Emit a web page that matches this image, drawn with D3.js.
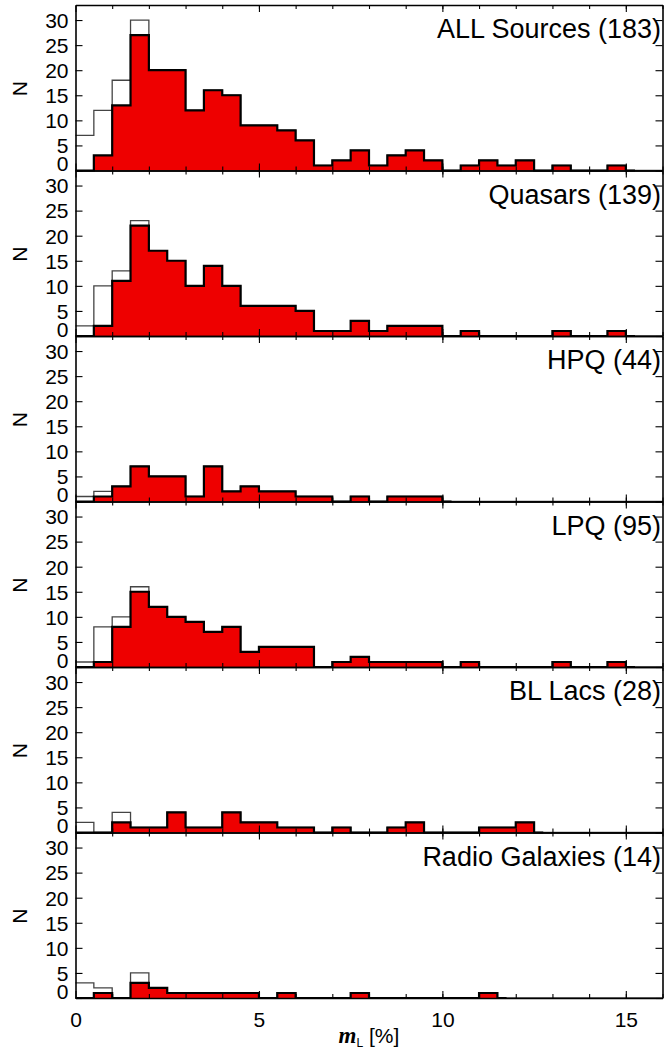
<!DOCTYPE html>
<html>
<head>
<meta charset="utf-8">
<script src="https://cdn.jsdelivr.net/npm/d3@7"></script>
<style>
body { margin: 0; background: #fff; }
svg text { font-family: "Liberation Sans", Arial, Helvetica, sans-serif; fill: #000; }
</style>
</head>
<body>
<div id="chart"></div>
<script>
// histogram bins: 0.5 % wide, starting at 0
const binWidth = 0.5;
const nBins = 32;

const panelLabels = ["ALL Sources (183)", "Quasars (139)", "HPQ (44)", "LPQ (95)", "BL Lacs (28)", "Radio Galaxies (14)"];

// filled (red) histograms
const allRed = [0, 3, 13, 27, 20, 20, 12, 16, 15, 9, 9, 8, 6, 1, 2, 4, 1, 3, 4, 2, 0, 1, 2, 1, 2, 0, 1, 0, 0, 1];
const qsoRed = [0, 2, 11, 22, 17, 15, 10, 14, 10, 6, 6, 6, 5, 1, 1, 3, 1, 2, 2, 2, 0, 1, 0, 0, 0, 0, 1, 0, 0, 1];
const hpqRed = [0, 1, 3, 7, 5, 5, 1, 7, 2, 3, 2, 2, 1, 1, 0, 1, 0, 1, 1, 1];
const lpqRed = [0, 1, 8, 15, 12, 10, 9, 7, 8, 3, 4, 4, 4, 0, 1, 2, 1, 1, 1, 1, 0, 1, 0, 0, 0, 0, 1, 0, 0, 1];
const blRed = [0, 0, 2, 1, 1, 4, 1, 1, 4, 2, 2, 1, 1, 0, 1, 0, 0, 1, 2, 0, 0, 0, 1, 1, 2];
const rgRed = [0, 1, 0, 3, 2, 1, 1, 1, 1, 1, 0, 1, 0, 0, 0, 1, 0, 0, 0, 0, 0, 0, 1];

// open histograms (only the first bins differ from the red ones)
const allOpenHead = [7, 12, 18, 30];
const qsoOpenHead = [2, 10, 13, 23];
const hpqOpenHead = [1, 2];
const lpqOpenHead = [1, 8, 10, 16];
const blOpenHead = [2, 0, 4];
const rgOpenHead = [3, 2, 0, 5];

const redSets = [allRed, qsoRed, hpqRed, lpqRed, blRed, rgRed];
const openHeads = [allOpenHead, qsoOpenHead, hpqOpenHead, lpqOpenHead, blOpenHead, rgOpenHead];

const yTicks = [0, 5, 10, 15, 20, 25, 30];
const xMajor = [0, 5, 10, 15];
const xMinor = d3.range(1, 17);

const W = 669,
    H = 1059,
    plotLeft = 75.5,
    plotRight = 662.5,
    plotTop = 5,
    ph = 165.5;

const pad = (arr) => d3.range(nBins).map((i) => arr[i] || 0);

const x = d3.scaleLinear().domain([0, 16]).range([plotLeft, plotRight]);
const y = d3.scaleLinear().domain([0, 33]).range([ph, 0]);

const svg = d3.select("#chart").append("svg")
    .attr("width", W)
    .attr("height", H);

const stepLine = d3.line()
    .x((d) => x(d[0]))
    .y((d) => y(d[1]))
    .curve(d3.curveStepAfter);

const stepArea = d3.area()
    .x((d) => x(d[0]))
    .y0(y(0))
    .y1((d) => y(d[1]))
    .curve(d3.curveStepAfter);

redSets.forEach((redRaw, p) => {

    const red = pad(redRaw);
    const open = red.map((v, i) => (i < openHeads[p].length ? openHeads[p][i] : v));

    const g = svg.append("g")
        .attr("transform", `translate(0,${plotTop + p * ph})`);

    // open histogram
    const openPts = open.map((v, i) => [i * binWidth, v]);
    openPts.push([nBins * binWidth, open[nBins - 1]]);
    g.append("path")
        .attr("d", stepLine(openPts))
        .attr("fill", "none")
        .attr("stroke", "#444")
        .attr("stroke-width", 1.3);

    // red filled histogram
    const redPts = red.map((v, i) => [i * binWidth, v]);
    redPts.push([nBins * binWidth, red[nBins - 1]]);
    g.append("path")
        .attr("d", stepArea(redPts))
        .attr("fill", "#ee0000");

    // black outline, ends a quarter bin past the last filled bin
    const last = d3.max(red.map((v, i) => (v > 0 ? i : -1)));
    const outline = red.slice(0, last + 1).map((v, i) => [i * binWidth, v]);
    outline.push([(last + 1) * binWidth, 0]);
    outline.push([(last + 1.5) * binWidth, 0]);
    g.append("path")
        .attr("d", stepLine(outline))
        .attr("fill", "none")
        .attr("stroke", "#000")
        .attr("stroke-width", 2.2)
        .attr("stroke-linejoin", "miter");

    // axes, ticks pointing inward
    const yl = g.append("g")
        .attr("transform", `translate(${plotLeft},0)`)
        .call(d3.axisLeft(y).tickValues(yTicks).tickSize(-7).tickSizeOuter(0).tickPadding(7));
    yl.selectAll("text")
        .attr("font-size", 21)
        .attr("dy", (d) => (d === 0 ? "0.02em" : "0.35em"));

    g.append("g")
        .attr("transform", `translate(${plotRight},0)`)
        .call(d3.axisRight(y).tickValues(yTicks).tickSize(-7).tickSizeOuter(0).tickFormat(""));

    const isLast = p === redSets.length - 1;
    const xb = g.append("g")
        .attr("transform", `translate(0,${ph})`)
        .call(d3.axisBottom(x).tickValues(xMajor).tickSize(-7).tickSizeOuter(0).tickPadding(14)
            .tickFormat(isLast ? d3.format("d") : ""));
    xb.selectAll("text").attr("font-size", 21);
    g.append("g")
        .attr("transform", `translate(0,${ph})`)
        .call(d3.axisBottom(x).tickValues(xMinor).tickSize(-4).tickSizeOuter(0).tickFormat(""))
        .select(".domain").remove();

    g.append("g")
        .call(d3.axisTop(x).tickValues(xMajor).tickSize(-7).tickSizeOuter(0).tickFormat(""));
    g.append("g")
        .call(d3.axisTop(x).tickValues(xMinor).tickSize(-4).tickSizeOuter(0).tickFormat(""))
        .select(".domain").remove();

    g.selectAll(".domain").attr("stroke-width", 1.6);
    g.selectAll(".tick line").attr("stroke-width", 1.1);

    // panel label and y title
    g.append("text")
        .attr("x", 661)
        .attr("y", 33)
        .attr("text-anchor", "end")
        .attr("font-size", 27)
        .text(panelLabels[p]);

    g.append("text")
        .attr("transform", `translate(27,${ph / 2 + 1}) rotate(-90)`)
        .attr("text-anchor", "middle")
        .attr("font-size", 21)
        .text("N");
});

// x title
const xt = svg.append("text")
    .attr("x", x(8))
    .attr("y", 1043)
    .attr("text-anchor", "middle")
    .attr("font-size", 21);
xt.append("tspan")
    .attr("font-family", "'Liberation Serif', 'Times New Roman', serif")
    .attr("font-style", "italic")
    .attr("font-weight", "bold")
    .attr("font-size", 23)
    .text("m");
xt.append("tspan")
    .attr("font-size", 12)
    .attr("dy", 4)
    .text("L");
xt.append("tspan")
    .attr("dy", -4)
    .text(" [%]");
</script>
</body>
</html>
